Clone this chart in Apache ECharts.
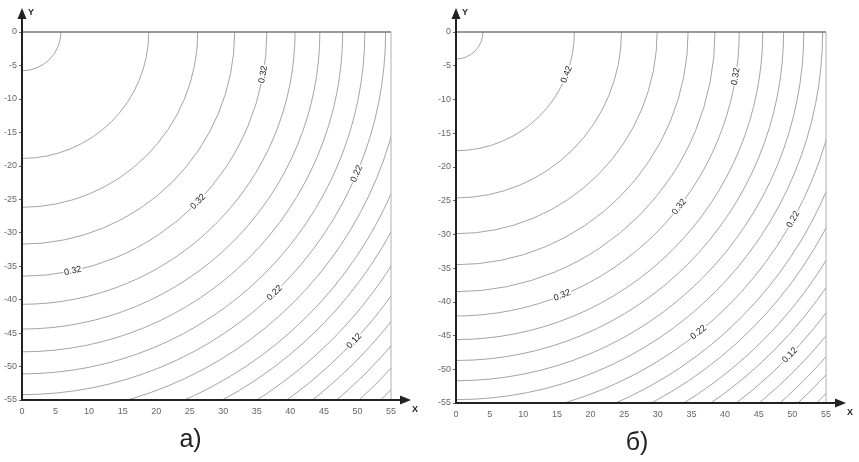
<!DOCTYPE html>
<html><head><meta charset="utf-8">
<script src="https://cdn.jsdelivr.net/npm/echarts@6/dist/echarts.min.js"></script>
<style>html,body{margin:0;padding:0;background:#fff}#c{width:859px;height:462px}</style>
</head><body><div id="c"></div>
<script>
// ---- data ----
const xTicks = [0, 5, 10, 15, 20, 25, 30, 35, 40, 45, 50, 55];
const yTicks = [0, -5, -10, -15, -20, -25, -30, -35, -40, -45, -50, -55];

// panel а): contour radius (distance from origin) and level value
const radiiA  = [5.8, 18.9, 26.2, 31.7, 36.5, 40.7, 44.4, 47.8, 51.1, 54.2, 57.2, 60.1, 62.6, 65.2, 67.7, 70.0, 72.3, 74.5, 76.7];
const levelsA = [0.40, 0.38, 0.36, 0.34, 0.32, 0.30, 0.28, 0.26, 0.24, 0.22, 0.20, 0.18, 0.16, 0.14, 0.12, 0.10, 0.08, 0.06, 0.04];
// contour labels of panel а): level and the angle (deg, below the X axis) where it sits
const labelLevelA = [0.32, 0.32, 0.32, 0.22, 0.22, 0.12];
const labelAngleA = [10, 44, 78, 23, 46, 43];

// panel б)
const radiiB  = [4.0, 17.6, 24.6, 29.9, 34.5, 38.5, 42.1, 45.6, 48.7, 51.7, 54.5, 57.3, 59.9, 62.2, 64.6, 66.8, 69.0, 71.1, 73.1, 74.9, 76.8];
const levelsB = [0.44, 0.42, 0.40, 0.38, 0.36, 0.34, 0.32, 0.30, 0.28, 0.26, 0.24, 0.22, 0.20, 0.18, 0.16, 0.14, 0.12, 0.10, 0.08, 0.06, 0.04];
const labelLevelB = [0.42, 0.32, 0.32, 0.32, 0.22, 0.22, 0.12];
const labelAngleB = [21, 9, 38, 68, 29, 51, 44];

const panelNames = ['а)', 'б)'];

// ---- chart ----
const chart = echarts.init(document.getElementById('c'), null, {renderer: 'canvas'});
const FONT = 'Liberation Sans, Arial, sans-serif';

function radiusOf(radii, levels, lv) {
  const i = levels.findIndex(v => Math.abs(v - lv) < 1e-9);
  return radii[i];
}

function axes(idx) {
  const x = {
    type: 'value', gridIndex: idx, min: xTicks[0], max: xTicks[xTicks.length - 1], interval: 5,
    axisLine: {show: false}, splitLine: {show: false},
    axisTick: {show: false},
    axisLabel: {color: '#666', fontSize: 9, fontFamily: FONT, margin: 7}
  };
  const y = {
    type: 'value', gridIndex: idx, min: yTicks[yTicks.length - 1], max: yTicks[0], interval: 5,
    axisLine: {show: false}, splitLine: {show: false},
    axisTick: {show: true, length: 3, lineStyle: {color: '#666', width: 1}},
    axisLabel: {color: '#666', fontSize: 9, fontFamily: FONT, margin: 5}
  };
  return [x, y];
}
const [xa, ya] = axes(0);
const [xb, yb] = axes(1);

function arcSeries(idx, radii, levels) {
  return {
    type: 'custom', xAxisIndex: idx, yAxisIndex: idx, clip: true, silent: true,
    data: radii.map((r, i) => [r, levels[i]]),
    renderItem: function (params, api) {
      const r = api.value(0);
      const c = api.coord([0, 0]);
      const px = api.coord([r, 0]);
      const py = api.coord([0, -r]);
      const rx = px[0] - c[0], ry = py[1] - c[1];
      return {
        type: 'path',
        shape: {pathData: 'M ' + (c[0] + rx) + ' ' + c[1] + ' A ' + rx + ' ' + ry + ' 0 0 1 ' + c[0] + ' ' + (c[1] + ry)},
        style: {fill: 'none', stroke: '#9a9a9a', lineWidth: 0.9}
      };
    }
  };
}

function labelSeries(idx, radii, levels, lvls, angles) {
  return {
    type: 'custom', xAxisIndex: idx, yAxisIndex: idx, clip: false, silent: true, z: 5,
    data: lvls.map((lv, i) => [radiusOf(radii, levels, lv), angles[i], lv]),
    renderItem: function (params, api) {
      const r = api.value(0), a = api.value(1) * Math.PI / 180;
      const p = api.coord([r * Math.cos(a), -r * Math.sin(a)]);
      return {
        type: 'text', x: p[0], y: p[1], rotation: Math.PI / 2 - a,
        style: {
          text: api.value(2).toFixed(2), fill: '#222', font: '9px ' + FONT,
          align: 'center', verticalAlign: 'middle',
          backgroundColor: '#fff', padding: [0, 1]
        }
      };
    }
  };
}

function frameSeries(idx, name, nameShift) {
  return {
    type: 'custom', xAxisIndex: idx, yAxisIndex: idx, clip: false, silent: true, z: 10,
    data: [[0]],
    renderItem: function (params, api) {
      const o = api.coord([0, -55]);
      const tl = api.coord([0, 0]);
      const tr = api.coord([55, 0]);
      const br = api.coord([55, -55]);
      const xEnd = br[0] + 20, yEnd = tl[1] - 24;
      return {
        type: 'group',
        children: [
          {type: 'line', shape: {x1: tl[0], y1: tl[1], x2: tr[0], y2: tr[1]}, style: {stroke: '#777', lineWidth: 1.6}},
          {type: 'line', shape: {x1: tr[0], y1: tr[1], x2: br[0], y2: br[1]}, style: {stroke: '#b0b0b0', lineWidth: 1}},
          {type: 'line', shape: {x1: o[0], y1: o[1], x2: xEnd - 6, y2: o[1]}, style: {stroke: '#222', lineWidth: 2}},
          {type: 'line', shape: {x1: o[0], y1: o[1] + 1, x2: o[0], y2: yEnd + 6}, style: {stroke: '#222', lineWidth: 2}},
          {type: 'polygon', shape: {points: [[xEnd, o[1]], [xEnd - 11, o[1] - 4.5], [xEnd - 11, o[1] + 4.5]]}, style: {fill: '#222'}},
          {type: 'polygon', shape: {points: [[o[0], yEnd], [o[0] - 4.5, yEnd + 11], [o[0] + 4.5, yEnd + 11]]}, style: {fill: '#222'}},
          {type: 'text', x: xEnd + 4, y: o[1] + 10, style: {text: 'X', fill: '#222', font: 'bold 9px ' + FONT, align: 'center', verticalAlign: 'middle'}},
          {type: 'text', x: o[0] + 9, y: yEnd + 5, style: {text: 'Y', fill: '#222', font: 'bold 9px ' + FONT, align: 'center', verticalAlign: 'middle'}},
          {type: 'text', x: (o[0] + br[0]) / 2 + nameShift, y: o[1] + 40, style: {text: name, fill: '#222', font: '25px ' + FONT, align: 'center', verticalAlign: 'middle'}}
        ]
      };
    }
  };
}

chart.setOption({
  animation: false,
  backgroundColor: '#fff',
  grid: [
    {left: 22, top: 32, width: 369, height: 368},
    {left: 456, top: 32, width: 370, height: 371}
  ],
  xAxis: [xa, xb],
  yAxis: [ya, yb],
  series: [
    arcSeries(0, radiiA, levelsA),
    arcSeries(1, radiiB, levelsB),
    labelSeries(0, radiiA, levelsA, labelLevelA, labelAngleA),
    labelSeries(1, radiiB, levelsB, labelLevelB, labelAngleB),
    frameSeries(0, panelNames[0], -16),
    frameSeries(1, panelNames[1], -4)
  ]
});
</script>
</body></html>
